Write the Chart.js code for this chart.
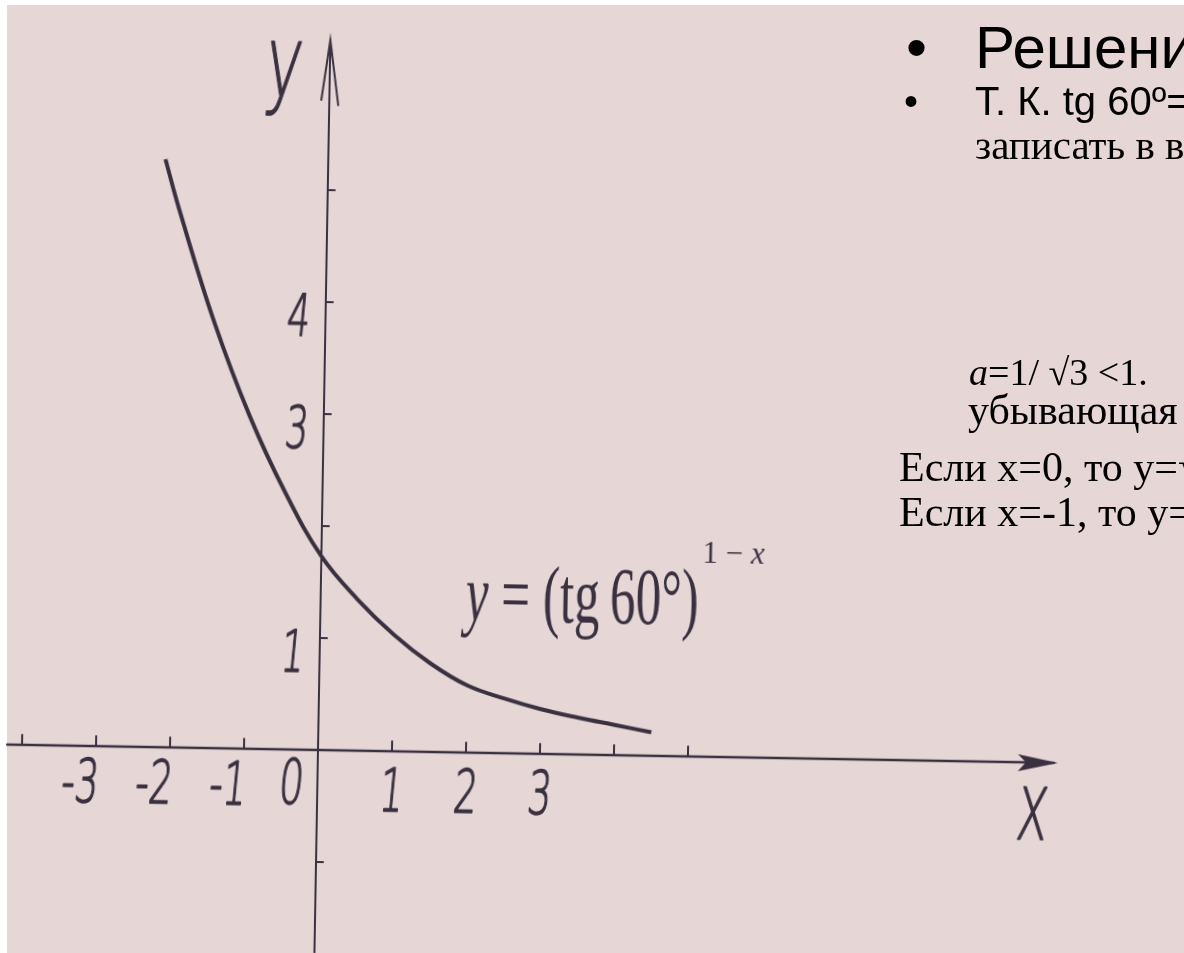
<!DOCTYPE html>
<html lang="ru">
<head>
<meta charset="utf-8">
<title>y = (tg 60°)^(1-x)</title>
<script src="https://cdn.jsdelivr.net/npm/chart.js@4.4.1/dist/chart.umd.min.js"></script>
<style>
	html, body { margin: 0; padding: 0; background: #fff; }
	body { width: 1184px; height: 953px; overflow: hidden; position: relative; }
	.page { position: absolute; left: 7px; top: 5px; right: 0; bottom: 0; background: #e6d6d6; }
	.plot { position: absolute; left: 0; top: 0; width: 1184px; height: 953px; transform: rotate(1deg); transform-origin: 318px 750px; }
	.txt { position: absolute; white-space: nowrap; color: #000; line-height: 1; }
	.sans { font-family: 'Liberation Sans', Arial, sans-serif; }
	.serif { font-family: 'Liberation Serif', 'Times New Roman', serif; }
</style>
</head>
<body>
<div class="page"></div>
<div class="plot"><canvas id="graph" width="1184" height="953"></canvas></div>

<div class="txt sans" style="left:906px; top:18px; font-size:60px">•</div>
<div class="txt sans" style="left:975px; top:18px; font-size:60px">Решение</div>
<div class="txt sans" style="left:904px; top:81px; font-size:40px">•</div>
<div class="txt sans" style="left:975px; top:81px; font-size:40px">Т. К. tg 60º=√3, то</div>
<div class="txt serif" style="left:975px; top:125px; font-size:41px">записать в виде</div>
<div class="txt serif" style="left:969px; top:353px; font-size:38px"><i>a</i>=1/ √3 &lt;1.</div>
<div class="txt serif" style="left:968px; top:389px; font-size:42px">убывающая</div>
<div class="txt serif" style="left:899px; top:446px; font-size:42px">Если x=0, то y=√3</div>
<div class="txt serif" style="left:899px; top:491px; font-size:42px">Если x=-1, то y=3</div>

<script>
// points read along the drawn curve y = (tg 60°)^(1-x)
const curveX = [-2.2, -2, -1.5, -1, -0.5, 0, 0.5, 1, 1.5, 2, 2.5, 3, 3.5, 4, 4.5]
const curveY = [5.25, 4.8, 3.8, 2.97, 2.29, 1.73, 1.35, 1.04, 0.79, 0.6, 0.49, 0.4, 0.33, 0.27, 0.21]

// tick marks and the numbers written next to them
const xTicks = [-4, -3, -2, -1, 0, 1, 2, 3, 4, 5]
const xLabels = [-3, -2, -1, 0, 1, 2, 3]
const yTicks = [-1, 1, 2, 3, 4, 5]
const yLabels = [1, 3, 4]

const ink = '#3a3140'

// numbers written by hand: narrow, thin, leaning a little
const hand = (ctx, str, px, py, size, align) => {
	ctx.save()
	ctx.translate(px, py)
	ctx.transform(0.62, 0, -0.08, 1, 0, 0)
	ctx.font = `200 ${size}px "DejaVu Sans"`
	ctx.textAlign = align
	ctx.textBaseline = 'middle'
	ctx.lineWidth = 1.6
	ctx.lineJoin = 'round'
	ctx.fillText(str, 0, 0)
	ctx.strokeText(str, 0, 0)
	ctx.restore()
}

const handAxes = {
	id: 'handAxes',
	beforeDatasetsDraw(chart) {
		const { ctx, scales: { x, y } } = chart
		const x0 = x.getPixelForValue(0)
		const y0 = y.getPixelForValue(0)
		const xEnd = x.getPixelForValue(10)
		const yTop = y.getPixelForValue(6.34)

		ctx.save()
		ctx.strokeStyle = ink
		ctx.fillStyle = ink
		ctx.lineCap = 'round'
		ctx.lineWidth = 2.5

		// x axis with a filled arrow
		ctx.beginPath()
		ctx.moveTo(x.getPixelForValue(-4.2), y0)
		ctx.lineTo(xEnd - 4, y0)
		ctx.stroke()
		ctx.beginPath()
		ctx.moveTo(xEnd, y0)
		ctx.lineTo(xEnd - 40, y0 - 8)
		ctx.lineTo(xEnd - 32, y0)
		ctx.lineTo(xEnd - 40, y0 + 9)
		ctx.closePath()
		ctx.fill()

		// y axis with an open arrow
		ctx.lineWidth = 2
		ctx.beginPath()
		ctx.moveTo(x0, y.getPixelForValue(y.min))
		ctx.lineTo(x0, yTop)
		ctx.stroke()
		ctx.beginPath()
		ctx.moveTo(x0 - 8, yTop + 60)
		ctx.lineTo(x0, yTop)
		ctx.lineTo(x0 + 9, yTop + 65)
		ctx.stroke()

		// tick marks
		ctx.lineWidth = 2
		xTicks.forEach((v) => {
			const px = x.getPixelForValue(v)
			ctx.beginPath()
			ctx.moveTo(px, y0)
			ctx.lineTo(px, y0 - 10)
			ctx.stroke()
		})
		yTicks.forEach((v) => {
			const py = y.getPixelForValue(v)
			ctx.beginPath()
			ctx.moveTo(x0, py)
			ctx.lineTo(x0 + 7, py)
			ctx.stroke()
		})

		// numbers under the x axis: negatives end at their tick, 0 sits left of the y axis
		xLabels.forEach((v) => {
			const px = x.getPixelForValue(v)
			if (v < 0) hand(ctx, String(v), px + 3, y0 + 40, 60, 'right')
			else if (v === 0) hand(ctx, '0', x0 - 14, y0 + 38, 62, 'right')
			else hand(ctx, String(v), px, y0 + 44, 60, 'center')
		})
		yLabels.forEach((v) => {
			hand(ctx, String(v), x0 - 27, y.getPixelForValue(v) + 19, 58, 'center')
		})

		// axis names
		hand(ctx, 'y', x0 - 46, yTop + 31, 100, 'center')
		hand(ctx, 'X', xEnd - 25, y0 + 58, 72, 'center')

		// formula next to the curve
		ctx.save()
		ctx.translate(x.getPixelForValue(1.96), y.getPixelForValue(1.18))
		ctx.save()
		ctx.scale(0.64, 1)
		ctx.textBaseline = 'alphabetic'
		ctx.font = 'italic 80px "Liberation Serif"'
		ctx.fillText('y', 0, 0)
		let w = ctx.measureText('y').width
		ctx.font = '80px "Liberation Serif"'
		const body = ' = (tg\u200960°)'
		ctx.fillText(body, w, 0)
		w = (w + ctx.measureText(body).width) * 0.64 + 3
		ctx.restore()
		ctx.font = '31px "Liberation Serif"'
		ctx.fillText('1 \u2212 ', w, -62)
		w += ctx.measureText('1 \u2212 ').width
		ctx.font = 'italic 31px "Liberation Serif"'
		ctx.fillText('x', w, -62)
		ctx.restore()

		ctx.restore()
	},
}

const ctx = document.getElementById('graph').getContext('2d')
const graph = new Chart(ctx, {
	type: 'scatter',
	data: {
		datasets: [
			{
				data: curveX.map((v, i) => ({ x: v, y: curveY[i] })),
				showLine: true,
				borderColor: ink,
				borderWidth: 4,
				pointRadius: 0,
				tension: 0.4,
				fill: false,
			},
		],
	},
	options: {
		responsive: false,
		animation: false,
		events: [],
		layout: { padding: 0 },
		plugins: {
			legend: { display: false },
			tooltip: { enabled: false },
		},
		scales: {
			x: { type: 'linear', display: false, min: -4.297, max: 11.703 },
			y: { type: 'linear', display: false, min: -1.8125, max: 6.696 },
		},
	},
	plugins: [handAxes],
})
</script>
</body>
</html>
